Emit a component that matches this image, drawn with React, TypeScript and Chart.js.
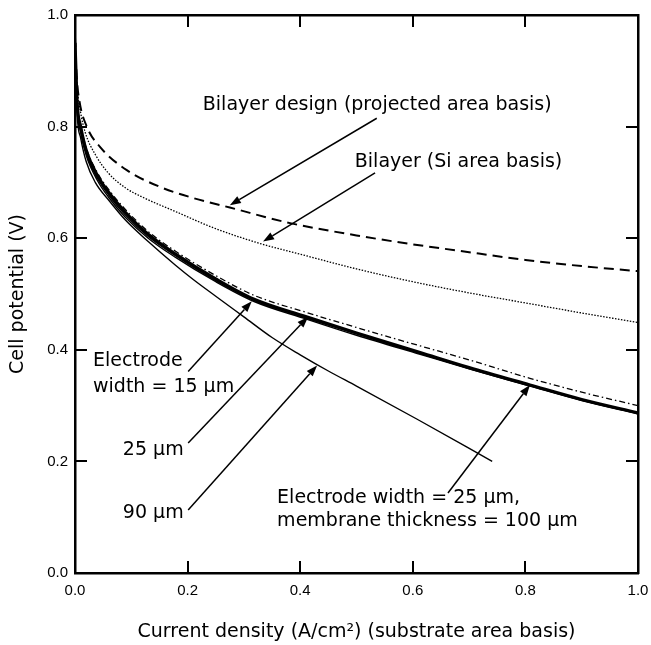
import React, { useEffect, useRef } from "react";
import { Chart, registerables } from "chart.js";

Chart.register(...registerables);

// ---- tick labels ----
const xTickLabels = ["0.0", "0.2", "0.4", "0.6", "0.8", "1.0"];
const yTickLabels = ["0.0", "0.2", "0.4", "0.6", "0.8", "1.0"];

// ---- series (current density A/cm², cell potential V) ----
const projectedX = [0, 0.003, 0.008, 0.021, 0.044, 0.092, 0.151, 0.21, 0.275, 0.382, 0.5, 0.6, 0.678, 0.8, 0.9, 1.0];
const projectedY = [0.96, 0.89, 0.845, 0.8, 0.764, 0.722, 0.692, 0.672, 0.655, 0.627, 0.605, 0.589, 0.578, 0.561, 0.55, 0.541];

const siAreaX = [0, 0.004, 0.01, 0.018, 0.036, 0.059, 0.09, 0.119, 0.178, 0.25, 0.337, 0.39, 0.5, 0.6, 0.7, 0.8, 0.9, 1.0];
const siAreaY = [0.95, 0.87, 0.825, 0.79, 0.75, 0.717, 0.69, 0.674, 0.648, 0.617, 0.588, 0.574, 0.545, 0.522, 0.502, 0.484, 0.466, 0.449];

const bundleX = [0, 0.004, 0.01, 0.02, 0.04, 0.06, 0.089, 0.13, 0.178, 0.25, 0.317, 0.411, 0.5, 0.613, 0.7, 0.808, 0.9, 1.0];
const width15Y = [0.95, 0.83, 0.79, 0.748, 0.703, 0.673, 0.638, 0.6, 0.566, 0.522, 0.487, 0.455, 0.426, 0.392, 0.366, 0.335, 0.309, 0.285];
const width25Y = [0.95, 0.835, 0.795, 0.752, 0.707, 0.677, 0.642, 0.603, 0.569, 0.524, 0.489, 0.457, 0.429, 0.393, 0.367, 0.336, 0.31, 0.286];
const membrane100Y = [0.95, 0.84, 0.8, 0.757, 0.712, 0.682, 0.647, 0.607, 0.572, 0.527, 0.491, 0.459, 0.43, 0.395, 0.368, 0.337, 0.311, 0.287];
const dashDotY = [0.95, 0.845, 0.805, 0.762, 0.717, 0.687, 0.652, 0.612, 0.577, 0.533, 0.498, 0.467, 0.44, 0.407, 0.382, 0.349, 0.324, 0.3];

const width90X = [0, 0.004, 0.01, 0.02, 0.036, 0.06, 0.09, 0.13, 0.178, 0.21, 0.25, 0.3, 0.35, 0.4, 0.45, 0.5, 0.607, 0.741];
const width90Y = [0.95, 0.82, 0.78, 0.737, 0.7, 0.668, 0.632, 0.594, 0.552, 0.526, 0.496, 0.459, 0.422, 0.391, 0.362, 0.335, 0.276, 0.2];

// ---- annotations (in data units) ----
const labelText = [
  "Bilayer design (projected area basis)",
  "Bilayer (Si area basis)",
  "Electrode",
  "width = 15 μm",
  "25 μm",
  "90 μm",
  "Electrode width = 25 μm,",
  "membrane thickness = 100 μm",
];
const labelX = [0.227, 0.497, 0.032, 0.032, 0.085, 0.085, 0.359, 0.359];
const labelY = [0.83, 0.728, 0.371, 0.325, 0.2115, 0.098, 0.1254, 0.0842];

const arrowFromX = [0.536, 0.533, 0.201, 0.201, 0.201, 0.6625];
const arrowFromY = [0.815, 0.717, 0.361, 0.233, 0.113, 0.1434];
const arrowToX = [0.275, 0.334, 0.314, 0.414, 0.43, 0.808];
const arrowToY = [0.659, 0.594, 0.487, 0.459, 0.372, 0.337];

const pts = (xs: number[], ys: number[]) => xs.map((x, i) => ({ x, y: ys[i] }));

const TEXT_FONT = '19px "DejaVu Sans"';

const annotationPlugin = {
  id: "figureAnnotations",
  afterDraw(chart: any) {
    const { ctx, chartArea } = chart;
    const xs = chart.scales.x;
    const ys = chart.scales.y;
    ctx.save();
    ctx.strokeStyle = "#000";
    ctx.fillStyle = "#000";
    // inward ticks on all four sides
    const tickLen = 12;
    ctx.lineWidth = 2;
    ctx.setLineDash([]);
    xs.ticks.forEach((t: any) => {
      if (t.value <= 0.0001 || t.value >= 0.9999) return;
      const px = Math.round(xs.getPixelForValue(t.value));
      ctx.beginPath();
      ctx.moveTo(px, chartArea.bottom);
      ctx.lineTo(px, chartArea.bottom - tickLen);
      ctx.moveTo(px, chartArea.top);
      ctx.lineTo(px, chartArea.top + tickLen);
      ctx.stroke();
    });
    ys.ticks.forEach((t: any) => {
      if (t.value <= 0.0001 || t.value >= 0.9999) return;
      const py = Math.round(ys.getPixelForValue(t.value));
      ctx.beginPath();
      ctx.moveTo(chartArea.left, py);
      ctx.lineTo(chartArea.left + tickLen, py);
      ctx.moveTo(chartArea.right, py);
      ctx.lineTo(chartArea.right - tickLen, py);
      ctx.stroke();
    });
    // arrows
    ctx.lineWidth = 1.5;
    for (let i = 0; i < arrowFromX.length; i++) {
      const x1 = xs.getPixelForValue(arrowFromX[i]);
      const y1 = ys.getPixelForValue(arrowFromY[i]);
      const x2 = xs.getPixelForValue(arrowToX[i]);
      const y2 = ys.getPixelForValue(arrowToY[i]);
      const ang = Math.atan2(y2 - y1, x2 - x1);
      const L = 11;
      const W = 4;
      const bx = x2 - L * Math.cos(ang);
      const by = y2 - L * Math.sin(ang);
      ctx.beginPath();
      ctx.moveTo(x1, y1);
      ctx.lineTo(bx, by);
      ctx.stroke();
      ctx.beginPath();
      ctx.moveTo(x2, y2);
      ctx.lineTo(bx + W * Math.sin(ang), by - W * Math.cos(ang));
      ctx.lineTo(bx - W * Math.sin(ang), by + W * Math.cos(ang));
      ctx.closePath();
      ctx.fill();
    }
    // labels
    ctx.font = TEXT_FONT;
    ctx.textAlign = "left";
    ctx.textBaseline = "alphabetic";
    for (let i = 0; i < labelText.length; i++) {
      ctx.fillText(labelText[i], xs.getPixelForValue(labelX[i]), ys.getPixelForValue(labelY[i]));
    }
    ctx.restore();
  },
};

export default function App() {
  const canvasRef = useRef<HTMLCanvasElement | null>(null);

  useEffect(() => {
    if (!canvasRef.current) return;
    const tickFont = { family: '"Liberation Sans", Arial, sans-serif', size: 15 };
    const chart = new Chart(canvasRef.current, {
      type: "line",
      data: {
        datasets: [
          {
            label: "Bilayer design (projected area basis)",
            data: pts(projectedX, projectedY),
            borderColor: "#000",
            borderWidth: 2,
            borderDash: [10, 6],
            pointRadius: 0,
            cubicInterpolationMode: "monotone",
          },
          {
            label: "Bilayer (Si area basis)",
            data: pts(siAreaX, siAreaY),
            borderColor: "#000",
            borderWidth: 1.3,
            borderDash: [1.5, 1.5],
            pointRadius: 0,
            cubicInterpolationMode: "monotone",
          },
          {
            label: "Electrode width = 15 μm",
            data: pts(bundleX, width15Y),
            borderColor: "#000",
            borderWidth: 1.4,
            pointRadius: 0,
            cubicInterpolationMode: "monotone",
          },
          {
            label: "Electrode width = 25 μm",
            data: pts(bundleX, width25Y),
            borderColor: "#000",
            borderWidth: 1.4,
            pointRadius: 0,
            cubicInterpolationMode: "monotone",
          },
          {
            label: "Electrode width = 25 μm, membrane thickness = 100 μm",
            data: pts(bundleX, membrane100Y),
            borderColor: "#000",
            borderWidth: 3.2,
            pointRadius: 0,
            cubicInterpolationMode: "monotone",
          },
          {
            label: "Dash-dot curve",
            data: pts(bundleX, dashDotY),
            borderColor: "#000",
            borderWidth: 1.3,
            borderDash: [6, 3, 1.5, 3],
            pointRadius: 0,
            cubicInterpolationMode: "monotone",
          },
          {
            label: "Electrode width = 90 μm",
            data: pts(width90X, width90Y),
            borderColor: "#000",
            borderWidth: 1.4,
            pointRadius: 0,
            cubicInterpolationMode: "monotone",
          },
        ],
      },
      options: {
        animation: false,
        responsive: false,
        devicePixelRatio: 1,
        layout: { padding: { top: 15, right: 13, bottom: 0, left: 0 } },
        plugins: { legend: { display: false }, tooltip: { enabled: false } },
        scales: {
          x: {
            type: "linear",
            position: "bottom",
            min: 0,
            max: 1,
            ticks: {
              stepSize: 0.2,
              color: "#000",
              font: tickFont,
              padding: 9,
              maxRotation: 0,
              callback: (_v: any, i: number) => xTickLabels[i],
            },
            grid: { display: false, drawTicks: false },
            border: { display: true, color: "#000", width: 2.5 },
            title: {
              display: true,
              text: "Current density (A/cm²) (substrate area basis)",
              color: "#000",
              font: { family: '"DejaVu Sans"', size: 19 },
              padding: { top: 0, bottom: 2 },
            },
            afterFit: (s: any) => {
              s.height = 72;
              s.paddingLeft = 0;
              s.paddingRight = 0;
            },
          },
          y: {
            type: "linear",
            position: "left",
            min: 0,
            max: 1,
            ticks: {
              stepSize: 0.2,
              color: "#000",
              font: tickFont,
              padding: 7,
              callback: (_v: any, i: number) => yTickLabels[i],
            },
            grid: { display: false, drawTicks: false },
            border: { display: true, color: "#000", width: 2.5 },
            title: {
              display: true,
              text: "Cell potential (V)",
              color: "#000",
              font: { family: '"DejaVu Sans"', size: 19 },
              padding: { top: 7, bottom: 0 },
            },
            afterFit: (s: any) => {
              s.width = 75;
              s.paddingTop = 0;
              s.paddingBottom = 0;
            },
          },
          x2: {
            type: "linear",
            position: "top",
            min: 0,
            max: 1,
            ticks: { display: false },
            grid: { display: false, drawTicks: false },
            border: { display: true, color: "#000", width: 2.5 },
            afterFit: (s: any) => {
              s.height = 0;
            },
          },
          y2: {
            type: "linear",
            position: "right",
            min: 0,
            max: 1,
            ticks: { display: false },
            grid: { display: false, drawTicks: false },
            border: { display: true, color: "#000", width: 2.5 },
            afterFit: (s: any) => {
              s.width = 0;
            },
          },
        },
      } as any,
      plugins: [annotationPlugin],
    });
    return () => chart.destroy();
  }, []);

  return (
    <div style={{ position: "absolute", left: 0, top: 0, width: 651, height: 645, background: "#fff" }}>
      <canvas ref={canvasRef} width={651} height={645} />
    </div>
  );
}
